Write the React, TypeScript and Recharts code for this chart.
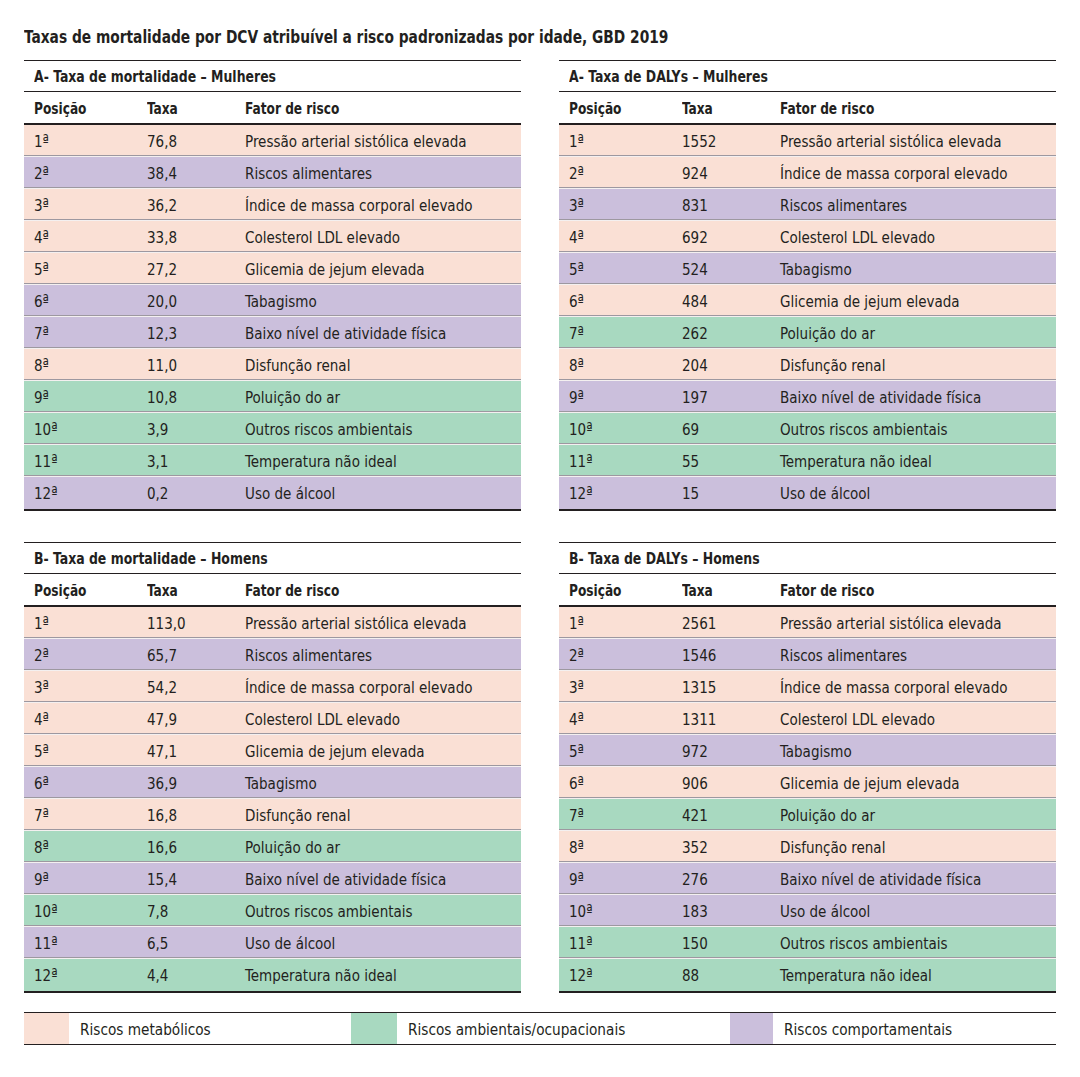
import React from "react";
import { Bar, BarChart, XAxis, YAxis } from "recharts";

const titulo = "Taxas de mortalidade por DCV atribuível a risco padronizadas por idade, GBD 2019";

const posicoes = ["1ª", "2ª", "3ª", "4ª", "5ª", "6ª", "7ª", "8ª", "9ª", "10ª", "11ª", "12ª"];

const mortMulheresTaxa = [76.8, 38.4, 36.2, 33.8, 27.2, 20.0, 12.3, 11.0, 10.8, 3.9, 3.1, 0.2];
const mortMulheresFator = [
  "Pressão arterial sistólica elevada",
  "Riscos alimentares",
  "Índice de massa corporal elevado",
  "Colesterol LDL elevado",
  "Glicemia de jejum elevada",
  "Tabagismo",
  "Baixo nível de atividade física",
  "Disfunção renal",
  "Poluição do ar",
  "Outros riscos ambientais",
  "Temperatura não ideal",
  "Uso de álcool",
];

const dalysMulheresTaxa = [1552, 924, 831, 692, 524, 484, 262, 204, 197, 69, 55, 15];
const dalysMulheresFator = [
  "Pressão arterial sistólica elevada",
  "Índice de massa corporal elevado",
  "Riscos alimentares",
  "Colesterol LDL elevado",
  "Tabagismo",
  "Glicemia de jejum elevada",
  "Poluição do ar",
  "Disfunção renal",
  "Baixo nível de atividade física",
  "Outros riscos ambientais",
  "Temperatura não ideal",
  "Uso de álcool",
];

const mortHomensTaxa = [113.0, 65.7, 54.2, 47.9, 47.1, 36.9, 16.8, 16.6, 15.4, 7.8, 6.5, 4.4];
const mortHomensFator = [
  "Pressão arterial sistólica elevada",
  "Riscos alimentares",
  "Índice de massa corporal elevado",
  "Colesterol LDL elevado",
  "Glicemia de jejum elevada",
  "Tabagismo",
  "Disfunção renal",
  "Poluição do ar",
  "Baixo nível de atividade física",
  "Outros riscos ambientais",
  "Uso de álcool",
  "Temperatura não ideal",
];

const dalysHomensTaxa = [2561, 1546, 1315, 1311, 972, 906, 421, 352, 276, 183, 150, 88];
const dalysHomensFator = [
  "Pressão arterial sistólica elevada",
  "Riscos alimentares",
  "Índice de massa corporal elevado",
  "Colesterol LDL elevado",
  "Tabagismo",
  "Glicemia de jejum elevada",
  "Poluição do ar",
  "Disfunção renal",
  "Baixo nível de atividade física",
  "Uso de álcool",
  "Outros riscos ambientais",
  "Temperatura não ideal",
];

const metabolicos = ["Pressão arterial sistólica elevada", "Índice de massa corporal elevado", "Colesterol LDL elevado", "Glicemia de jejum elevada", "Disfunção renal"];
const ambientais = ["Poluição do ar", "Outros riscos ambientais", "Temperatura não ideal"];

const legendaNomes = ["Riscos metabólicos", "Riscos ambientais/ocupacionais", "Riscos comportamentais"];
const cores = ["#fae0d5", "#a8d9c0", "#cbbfdc"];

const FONT = "'Liberation Sans Narrow', 'DejaVu Sans Condensed', sans-serif";
const INK = "#231f20";

function corDoFator(f: string) {
  if (metabolicos.includes(f)) return cores[0];
  if (ambientais.includes(f)) return cores[1];
  return cores[2];
}

function buildRows(taxas: number[], fatores: string[], decimal: boolean) {
  return posicoes.map((pos, i) => ({
    pos,
    taxa: decimal ? taxas[i].toFixed(1).replace(".", ",") : String(taxas[i]),
    fator: fatores[i],
    band: 1,
  }));
}

// narrow-looking text in html (no condensed Helvetica available)
function Narrow({ children, s, style }: { children: any; s: number; style?: any }) {
  return (
    <span style={{ display: "inline-block", whiteSpace: "nowrap", transform: `scaleX(${s})`, transformOrigin: "left center", ...style }}>
      {children}
    </span>
  );
}

function CellText({ x, y, children }: { x: number; y: number; children: any }) {
  return (
    <text transform={`translate(${x},${y}) scale(0.91,1)`} dominantBaseline="central" fontSize={16.5} fill={INK} fontFamily={FONT}>
      {children}
    </text>
  );
}

function RowShape(props: any) {
  const { x, y, width, height, payload, index } = props;
  const fill = corDoFator(payload.fator);
  const cy = y + height / 2 + 0.5;
  return (
    <g>
      <rect x={x} y={y} width={width} height={height} fill={fill} />
      {index < posicoes.length - 1 && (
        <>
          <line x1={x} x2={x + width} y1={y + height - 1.5} y2={y + height - 1.5} stroke="#9d98a0" strokeWidth={1} />
          <line x1={x} x2={x + width} y1={y + height - 0.5} y2={y + height - 0.5} stroke="#f4f0f0" strokeWidth={1} />
        </>
      )}
      <CellText x={x + 10} y={cy}>{payload.pos}</CellText>
      <CellText x={x + 123} y={cy}>{payload.taxa}</CellText>
      <CellText x={x + 221} y={cy}>{payload.fator}</CellText>
    </g>
  );
}

function Panel({ left, top, title, rows }: { left: number; top: number; title: string; rows: any[] }) {
  const W = 497;
  return (
    <div style={{ position: "absolute", left, top, width: W, fontFamily: FONT, color: INK }}>
      <div style={{ borderTop: `1.5px solid ${INK}`, borderBottom: `1.5px solid ${INK}`, height: 30, lineHeight: "32px", paddingLeft: 10, fontWeight: 700, fontSize: 16.5 }}>
        <Narrow s={0.84}>{title}</Narrow>
      </div>
      <div style={{ position: "relative", height: 31, borderBottom: `2px solid ${INK}`, fontWeight: 700, fontSize: 16.5, lineHeight: "33px" }}>
        <Narrow s={0.82} style={{ position: "absolute", left: 10 }}>Posição</Narrow>
        <Narrow s={0.82} style={{ position: "absolute", left: 123 }}>Taxa</Narrow>
        <Narrow s={0.82} style={{ position: "absolute", left: 221 }}>Fator de risco</Narrow>
      </div>
      <div style={{ borderBottom: `2px solid ${INK}` }}>
        <BarChart width={W} height={384} data={rows} layout="vertical" barCategoryGap={0} margin={{ top: 0, right: 0, bottom: 0, left: 0 }}>
          <XAxis type="number" domain={[0, 1]} hide />
          <YAxis type="category" dataKey="pos" hide />
          <Bar dataKey="band" isAnimationActive={false} shape={RowShape} />
        </BarChart>
      </div>
    </div>
  );
}

export default function App() {
  const legendaX = [24, 351, 730];
  const legendaW = [45, 46, 43];
  return (
    <div style={{ position: "absolute", left: 0, top: 0, width: 1080, height: 1077, background: "#fff", fontFamily: FONT, color: INK }}>
      <div style={{ position: "absolute", left: 24, top: 27, fontSize: 17.5, fontWeight: 700 }}>
        <Narrow s={0.875}>{titulo}</Narrow>
      </div>
      <Panel left={24} top={60} title="A- Taxa de mortalidade – Mulheres" rows={buildRows(mortMulheresTaxa, mortMulheresFator, true)} />
      <Panel left={559} top={60} title="A- Taxa de DALYs – Mulheres" rows={buildRows(dalysMulheresTaxa, dalysMulheresFator, false)} />
      <Panel left={24} top={542} title="B- Taxa de mortalidade – Homens" rows={buildRows(mortHomensTaxa, mortHomensFator, true)} />
      <Panel left={559} top={542} title="B- Taxa de DALYs – Homens" rows={buildRows(dalysHomensTaxa, dalysHomensFator, false)} />
      <div style={{ position: "absolute", left: 24, top: 1012, width: 1032, height: 31, borderTop: `1.5px solid ${INK}`, borderBottom: `1.5px solid ${INK}` }}>
        {legendaNomes.map((n, i) => (
          <React.Fragment key={n}>
            <div style={{ position: "absolute", left: legendaX[i] - 24, top: 0, width: legendaW[i], height: 31, background: cores[i] }} />
            <div style={{ position: "absolute", left: legendaX[i] - 24 + legendaW[i] + 11, top: 0, lineHeight: "33px", fontSize: 16.5 }}>
              <Narrow s={0.92}>{n}</Narrow>
            </div>
          </React.Fragment>
        ))}
      </div>
    </div>
  );
}
